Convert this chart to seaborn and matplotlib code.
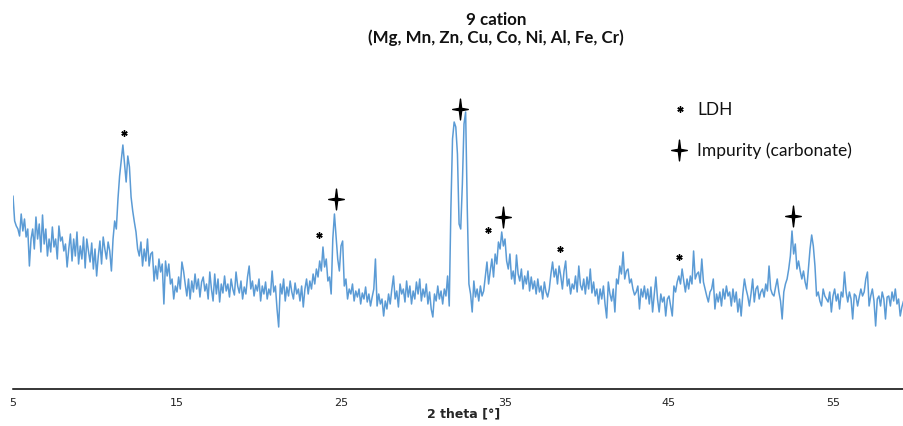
import numpy as np
import pandas as pd
import matplotlib
matplotlib.use("Agg")
import matplotlib.pyplot as plt
from matplotlib.path import Path
import seaborn as sns

# XRD scan: 2-theta from 5.0 deg in 0.1 deg steps, intensity in arbitrary units
two_theta_start = 5.0
two_theta_step = 0.1
intensity = [
    193, 168, 163, 160, 153, 175, 158, 170, 152, 160,   # 5
    123, 150, 160, 140, 172, 150, 165, 137, 174, 145,   # 6
    160, 133, 150, 137, 162, 142, 150, 130, 163, 148,   # 7
    152, 138, 145, 122, 140, 155, 128, 150, 133, 157,   # 8
    125, 143, 130, 152, 121, 150, 138, 127, 146, 120,   # 9
    140, 113, 133, 148, 125, 152, 140, 130, 147, 138,   # 10
    118, 150, 168, 160, 190, 213, 228, 244, 225, 207,   # 11
    233, 222, 192, 178, 167, 157, 140, 133, 147, 123,   # 12
    140, 128, 150, 123, 135, 137, 108, 123, 110, 130,   # 13
    117, 125, 85, 128, 113, 125, 105, 110, 90, 103,     # 14
    97, 112, 100, 127, 118, 105, 93, 110, 90, 108,      # 15
    97, 115, 100, 110, 92, 107, 112, 98, 105, 90,       # 16
    117, 100, 88, 115, 95, 110, 87, 105, 96, 113,       # 17
    98, 105, 92, 110, 100, 94, 117, 103, 96, 108,       # 18
    90, 102, 95, 112, 123, 100, 108, 93, 104, 98,       # 19
    110, 88, 103, 95, 107, 90, 100, 94, 118, 97,        # 20
    103, 80, 62, 105, 95, 110, 88, 102, 93, 108,        # 21
    97, 90, 106, 95, 100, 88, 103, 82, 100, 110,        # 22
    95, 108, 100, 115, 105, 120, 112, 128, 118, 142,    # 23
    122, 130, 108, 112, 95, 150, 175, 153, 130, 118,    # 24
    143, 148, 103, 110, 90, 100, 95, 105, 88, 98,       # 25
    92, 100, 85, 96, 90, 102, 87, 95, 83, 92,           # 26
    100, 130, 83, 95, 85, 90, 73, 88, 80, 95,           # 27
    85, 100, 113, 90, 98, 82, 105, 95, 100, 87,         # 28
    108, 92, 103, 85, 98, 90, 107, 95, 110, 88,         # 29
    100, 92, 105, 85, 97, 80, 72, 95, 88, 103,          # 30
    90, 98, 85, 100, 93, 113, 83, 180, 250, 267,        # 31
    262, 235, 165, 160, 205, 265, 277, 180, 105, 95,    # 32
    77, 108, 92, 100, 88, 103, 93, 98, 113, 127,        # 33
    105, 118, 130, 112, 135, 125, 147, 140, 157, 143,   # 34
    150, 128, 120, 135, 110, 118, 105, 134, 115, 108,   # 35
    120, 100, 113, 105, 118, 98, 112, 100, 108, 95,     # 36
    110, 97, 103, 90, 107, 97, 92, 100, 115, 127,       # 37
    112, 120, 105, 123, 113, 100, 118, 128, 103, 110,   # 38
    95, 105, 100, 113, 97, 123, 104, 99, 110, 95,       # 39
    112, 100, 120, 96, 107, 93, 100, 85, 100, 90,       # 40
    103, 85, 71, 107, 95, 88, 100, 77, 110, 105,        # 41
    123, 115, 137, 110, 118, 120, 106, 110, 100, 94,    # 42
    97, 103, 80, 100, 92, 103, 90, 100, 85, 102,        # 43
    77, 95, 112, 90, 77, 95, 87, 92, 73, 90,            # 44
    93, 83, 73, 103, 97, 107, 113, 105, 120, 108,       # 45
    97, 110, 100, 113, 105, 138, 110, 115, 117, 106,    # 46
    130, 107, 100, 93, 87, 97, 100, 110, 80, 95,        # 47
    87, 97, 83, 100, 90, 103, 93, 97, 83, 100,          # 48
    87, 97, 77, 90, 73, 95, 110, 100, 93, 83,           # 49
    95, 110, 87, 100, 103, 90, 97, 100, 92, 105,        # 50
    98, 123, 100, 95, 93, 102, 110, 97, 88, 70,         # 51
    97, 105, 110, 120, 133, 158, 135, 145, 120, 128,    # 52
    118, 110, 118, 107, 100, 120, 140, 154, 143, 123,   # 53
    93, 97, 88, 83, 100, 93, 90, 87, 97, 77,            # 54
    93, 100, 88, 95, 80, 97, 92, 117, 97, 87,           # 55
    97, 90, 70, 95, 93, 83, 92, 100, 93, 97,            # 56
    110, 117, 83, 93, 100, 88, 63, 90, 93, 83,          # 57
    97, 90, 70, 92, 93, 83, 97, 88, 100, 85,            # 58
    90, 73, 82, 88,                                     # 59
]

# Reflection assignments (2-theta, deg)
ldh_peaks = [11.75, 23.65, 33.95, 38.35, 45.6]
carbonate_peaks = [24.7, 32.26, 34.88, 52.56]

tick_values = [5, 15, 25, 35, 45, 55]
title_lines = ["9 cation", "(Mg, Mn, Zn, Cu, Co, Ni, Al, Fe, Cr)"]
x_label = "2 theta [°]"
legend_labels = ["LDH", "Impurity (carbonate)"]

two_theta = two_theta_start + two_theta_step * np.arange(len(intensity))
df = pd.DataFrame({"two_theta": two_theta, "intensity": intensity})

sns.set_theme(style="white")
plt.rcParams["font.family"] = ["Lato", "DejaVu Sans"]

fig = plt.figure(figsize=(9.04, 4.27), dpi=100)
ax = fig.add_axes([13 / 904, 37 / 427, 891 / 904, 330 / 427])

line_color = "#5B9BD5"
sns.lineplot(data=df, x="two_theta", y="intensity", ax=ax,
             color=line_color, linewidth=1.1)

ax.set_xlim(two_theta_start, two_theta_start + 891 / 16.4)
ax.set_ylim(0, 330)

for s in ["top", "right", "left"]:
    ax.spines[s].set_visible(False)
ax.spines["bottom"].set_color("black")
ax.spines["bottom"].set_linewidth(1.1)
ax.set_yticks([])
ax.set_xticks(tick_values)
ax.set_xticklabels([str(t) for t in tick_values],
                   family=["Liberation Sans Narrow", "DejaVu Sans"], fontsize=8)
ax.tick_params(axis="x", length=0, pad=5.5, colors="#222222")
ax.set_xlabel(x_label, fontsize=9, fontweight="bold",
              family=["Liberation Sans Narrow", "DejaVu Sans"])
ax.xaxis.set_label_coords((464 - 13) / 891, -17 / 330)
ax.set_ylabel("")

# Four-pointed star marker for carbonate reflections
star_verts = [(0, 1), (0.11, 0.11), (0.75, 0), (0.11, -0.11), (0, -1),
              (-0.11, -0.11), (-0.75, 0), (-0.11, 0.11), (0, 1)]
star = Path(star_verts, [Path.MOVETO] + [Path.LINETO] * 7 + [Path.CLOSEPOLY])

tt = df["two_theta"].to_numpy()
yy = df["intensity"].to_numpy()


def local_max(pos, half_width):
    sel = (tt >= pos - half_width) & (tt <= pos + half_width)
    return yy[sel].max()


for p in ldh_peaks:
    ax.plot(p, local_max(p, 0.7) + 12, marker=(6, 2, 0), markersize=4.5,
            mew=1.0, color="black", linestyle="none")
for p in carbonate_peaks:
    ax.plot(p, local_max(p, 0.3) + 15, marker=star, markersize=15,
            color="black", linestyle="none")

# Key
ax.plot(0.7486, 0.848, transform=ax.transAxes, marker=(6, 2, 0),
        markersize=4.5, mew=1.0, color="black", linestyle="none")
ax.text(0.7677, 0.848, legend_labels[0], transform=ax.transAxes,
        fontsize=12.5, va="center", ha="left", color="#111111")
ax.plot(0.7475, 0.724, transform=ax.transAxes, marker=star,
        markersize=15, color="black", linestyle="none")
ax.text(0.7677, 0.724, legend_labels[1], transform=ax.transAxes,
        fontsize=12.5, va="center", ha="left", color="#111111")

fig.text(496 / 904, 1 - 20 / 427, title_lines[0], ha="center", va="center",
         fontsize=12.2, fontweight="bold", color="#111111")
fig.text(496 / 904, 1 - 38 / 427, title_lines[1], ha="center", va="center",
         fontsize=12.2, fontweight="bold", color="#111111")

fig.savefig("out.png", dpi=100)
